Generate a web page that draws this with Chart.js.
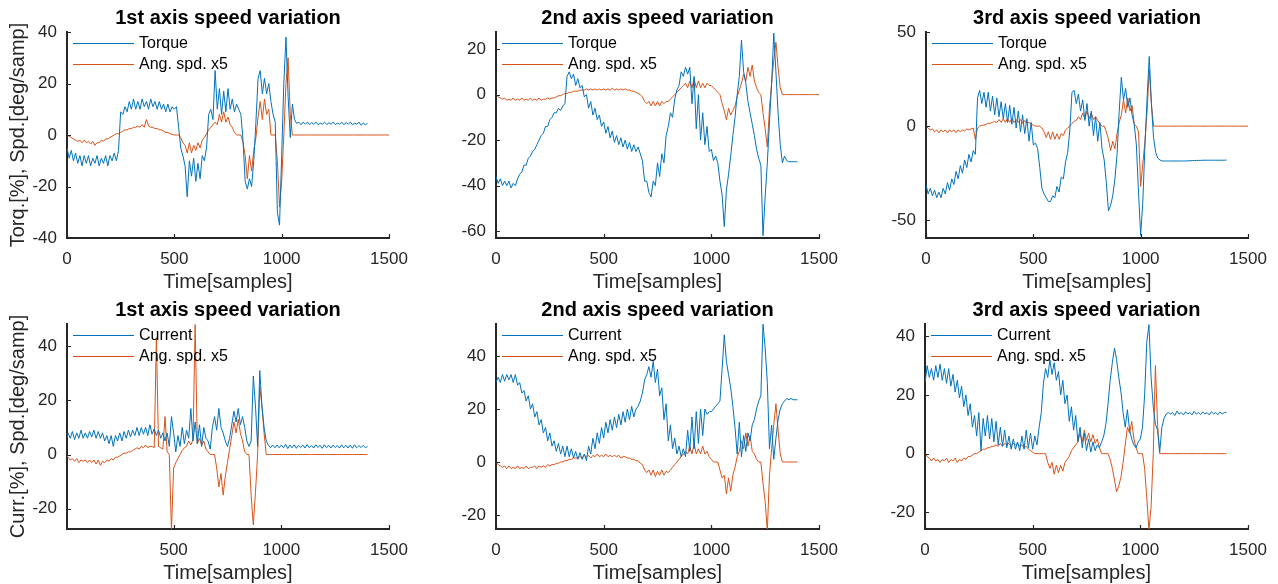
<!DOCTYPE html>
<html>
<head>
<title>Axis speed variation</title>
<style>
  body { margin: 0; background: #fff; }
  #wrap { position: relative; width: 1278px; height: 584px; }
  #wrap canvas { position: absolute; left: 0; top: 0; }
</style>
<script src="https://cdn.jsdelivr.net/npm/chart.js"></script>
</head>
<body>
<div id="wrap">
  <canvas id="c1" width="1278" height="584"></canvas>
  <canvas id="c2" width="1278" height="584"></canvas>
  <canvas id="c3" width="1278" height="584"></canvas>
  <canvas id="c4" width="1278" height="584"></canvas>
  <canvas id="c5" width="1278" height="584"></canvas>
  <canvas id="c6" width="1278" height="584"></canvas>
</div>
<script>
// sample index, one value every 10 samples (0 .. 1500)
const sampleIdx = [];
for (let t = 0; t <= 1500; t += 10) sampleIdx.push(t);

const titles = ["1st axis speed variation", "2nd axis speed variation", "3rd axis speed variation"];
const xTicksFull = [0, 500, 1000, 1500];
const xTicksCut = [500, 1000, 1500];

// ---- top row: torque + angular speed x5 ----
const torque1 = [
  -5,-9,-6,-10,-7,-11,-8,-12,-8,-11,
  -8,-12,-9,-11,-8,-12,-9,-11,-8,-12,
  -8,-10,-7,-10,-6,9,8,11,9,13,
  10,14,10,13,10,14,11,13,10,14,
  11,13,10,13,10,12,9,12,9,11,
  10,11,3,-5,-8,-12,-24,-10,-16,-9,
  -18,-11,-17,-8,-10,-5,8,10,6,25,
  10,18,8,17,9,18,10,14,9,12,
  10,8,-2,-18,-21,-17,-20,-10,5,22,
  25,16,22,16,20,13,8,5,-30,-35,
  -8,20,38,15,-1,12,6,4.5,5,4,
  5,4.2,5,4,4.8,4.2,5,4,4.6,4.2,
  5,4,4.8,4.2,5,4,4.6,4.2,5,4,
  4.8,4.2,5,4,4.6,4.2,5,3.8,4.6,4,
  4.5];
const speedT1 = [
  0,-0.5,-1,-1.5,-2,-2.5,-2,-3,-2,-3,
  -2.5,-3.5,-2.5,-4,-3,-3,-2,-2.5,-1.5,-1.5,
  -1,-0.5,0,0.5,0.5,1,1.5,2,2,2.5,
  2.5,3,3,3.5,3,4,3,6,3.5,3,
  3,2.5,2.5,2,2,1.5,1,1,0.5,0.2,
  0,0,0,-1,-3,-4,-7,-3,-7,-4,
  -6,-3,-5,-2,-1,0.5,2,3,4,5,
  4,8,5,9,5,7,4,3,1,0,
  0,0,-3,-8,-17,-8,-14,-6,-1,7,
  13,6,14,8,10,0,0,0,-10,-28,
  -18,0,20,30,8,0,0,0,0,0,
  0,0,0,0,0,0,0,0,0,0,
  0,0,0,0,0,0,0,0,0,0,
  0,0,0,0,0,0,0,0,0,0,
  0,0,0,0,0,0,0,0,0,0,
  0];
const torque2 = [
  -36,-39,-37,-40,-38,-40,-38,-41,-39,-40,
  -37,-35,-34,-31,-31,-28,-27,-25,-24,-22,
  -20,-18,-17,-14,-14,-11,-10,-8,-8,-6,
  -7,-5,-4,8,10,7,9,4,7,3,
  4,-1,0,-6,-3,-9,-6,-11,-9,-14,
  -12,-17,-14,-19,-16,-21,-18,-22,-19,-23,
  -20,-24,-21,-25,-22,-25,-23,-26,-29,-38,
  -38,-43,-45,-38,-40,-30,-36,-26,-30,-18,
  -14,-8,-10,-2,2,4,10,8,12,9,
  12,-4,8,-15,0,-20,-8,-22,-14,-25,
  -24,-29,-27,-30,-38,-44,-58,-42,-35,-27,
  -18,-10,0,8,24,10,5,-3,-8,-13,
  -18,-24,-28,-31,-62,-45,-30,-12,5,27,
  10,-8,-22,-30,-27,-29,-29.5,-29.5,-29.5,-29.5,
  -29.5];
const speedT2 = [
  0,-1,-1.5,-2,-1.5,-2.5,-2,-2.5,-1.5,-2.5,
  -2,-2.5,-1.5,-2.5,-2,-2.5,-1.5,-2.5,-2,-2.5,
  -1.5,-2.5,-2,-2,-1.5,-2,-1.5,-1.5,-1,-0.5,
  -0.5,0,0.5,0.5,1,1,1.5,1.5,1.5,2,
  2,2,2.5,2,2.5,2,2.5,2,2.5,2,
  2.5,2,2.5,2,2.8,2,2.5,2,2.5,2,
  2.5,2,2,1.5,1.5,1,0.5,0,-1,-3,
  -4,-3,-5,-3,-5,-3,-5,-3,-4,-3,
  -3,-2,-1,0,1,2,3,4,5,3,
  6,3,7,3,6,3,5,3,5,4,
  4,3,2,1,0,-4,-7,-11,-6,-9,
  -7,-5,-1,2,5,9,6,12,8,13,
  6,3,1,0,-8,-15,-23,-6,5,15,
  23,12,3,0,0,0,0,0,0,0,
  0,0,0,0,0,0,0,0,0,0,
  0];
const torque3 = [
  -31,-36,-33,-37,-34,-38,-35,-38,-33,-36,
  -30,-34,-28,-31,-24,-28,-21,-25,-18,-22,
  -15,-19,-13,-15,15,19,12,18,10,18,
  8,16,6,15,5,13,4,12,2,11,
  1,10,-1,8,-3,6,-4,4,-8,2,
  -10,-9,-12,-22,-33,-36,-38,-40,-40,-37,
  -38,-32,-35,-27,-28,-19,-14,-2,18,19,
  12,17,8,14,3,12,0,8,-5,5,
  -8,2,-12,-18,-30,-45,-42,-37,-28,-15,
  8,26,14,20,10,15,6,1,-10,-35,
  -58,-40,-10,15,37,12,-6,-14,-17,-18,
  -18.5,-18.5,-18.5,-18.5,-18.5,-18.5,-18.5,-18.5,-18.5,-18.5,
  -18.5,-18.5,-18.4,-18.4,-18.3,-18.3,-18.2,-18.2,-18.2,-18.1,
  -18.1,-18.1,-18.1,-18.1,-18.1,-18.1,-18.1,-18.1,-18.1,-18.1,
  -18];
const speedT3 = [
  0,-1,-2,-1.5,-3,-2,-3.5,-2,-3,-2,
  -3.5,-2,-3,-2,-3.5,-2,-3,-2,-2.5,-1.5,
  -2,-1.5,-1,-7,-1,0,0.5,0.5,1,1.5,
  1.5,2,2.5,2,3.5,2,4,2,4,2,
  4,2,3.5,2,3.5,1.5,3,1.5,2,1,
  0.5,0,0,0,-1,-3,-6,-3,-7,-3,
  -7,-4,-7,-4,-5,-2,-1,0,1.5,2.5,
  3,5,3.5,7,4,8,4,7,3.5,5,
  3,1,0,0,-3,-7,-13,-8,-12,-4,
  2,6,14,7,15,8,11,1,0,-3,
  -32,-20,-8,8,30,12,0,0,0,0,
  0,0,0,0,0,0,0,0,0,0,
  0,0,0,0,0,0,0,0,0,0,
  0,0,0,0,0,0,0,0,0,0,
  0,0,0,0,0,0,0,0,0,0,
  0];

// ---- bottom row: current + angular speed x5 ----
const current1 = [
  5,8,6,8.5,5.5,8,6,9,6,8,
  6,8.5,6.5,9,6,8.5,6,8,5,7,
  4,7,3,7,5,8,5,8.5,6,9,
  6.5,9,7,10,7,10,7.5,10,7,11,
  7.5,9.5,7,9,6,8,5,8,3,14,
  8,1,7,3,10,4,9,6,17,5,
  12,4,11,3,10,6,5,2,10,14,
  9,17,10,8,5,3,6,11,16,12,
  17,11,14,10,5,3,5,29,18,3,
  31,18,10,5,3.5,2.5,3.5,2.5,3.5,2.5,
  3.5,2.5,3.8,2.2,3.5,2.5,3.6,2.3,3.4,2.6,
  3.5,2.4,3.7,2.5,3.3,2.4,3.6,2.6,3.4,2.3,
  3.6,2.5,3.4,2.4,3.5,2.6,3.3,2.4,3.6,2.5,
  3.4,2.4,3.5,2.3,3.6,2.5,3.3,2.6,3.4,2.5,
  3];
const speedC1 = [
  0,-1,-2,-1.5,-2.5,-1.5,-3,-2,-2.5,-2,
  -3,-2,-3,-2,-3.5,-2,-4,-2.5,-3,-2,
  -2.5,-1.5,-2,-1,-1,-0.5,0,0.5,0.5,1,
  1,1.5,2,2.5,2,3,2.5,3.5,2.5,3,
  3,2.5,43,3,2.5,2,14,1,0,-28,
  -5,-3,-1.5,0,1.5,2.5,3,5,3.5,5.5,
  48,4,6,3.5,5,2,1,0,0,0,
  -5,-12,-7,-15,-8,-3,2,7,12,8,
  13,8,5,1,0,0,-15,-26,-14,0,
  25,18,8,0,0,0,0,0,0,0,
  0,0,0,0,0,0,0,0,0,0,
  0,0,0,0,0,0,0,0,0,0,
  0,0,0,0,0,0,0,0,0,0,
  0,0,0,0,0,0,0,0,0,0,
  0];
const current2 = [
  30,32,30,33,30.5,33,31,33,30,33,
  29,30,26,27,23,25,20,22,17,19,
  14,16,11,13,8,11,6,8,4,7,
  3,6,2,6,2,5,1.5,4,1,3.5,
  1,3,0.5,6,3,9,5,11,7,13,
  9,15,11,16,12,17,13,18,14,19,
  15,20,16,21,17,20,21,23,26,31,
  33,36,32,38,30,35,25,28,16,22,
  8,14,5,9,3,6,2,5,2,12,
  4,17,5,19,7,20,10,20,18,19,
  19,20,21,22,23,35,48,38,33,28,
  21,13,3,15,2,10,4,11,8,14,
  16,20,23,25,52,43,30,5,14,1,
  9,16,20,22,23,24,23.5,24,23.5,23.5,
  23.5];
const speedC2 = [
  0,-1,-1.5,-2,-1.5,-2.5,-1.5,-2.5,-2,-2.5,
  -1.5,-2.5,-2,-2.5,-1.5,-2.5,-2,-2,-1.5,-2.5,
  -1.5,-2,-1.5,-2,-1,-1.5,-1,-1,-0.5,-0.5,
  0,0,0.5,0.5,1,1,1.5,1.5,1.5,2,
  1.5,2.5,2,2.5,1.5,2.5,2,3,2,2.5,
  2,3,2,2.5,2,2.5,2,2.5,1.5,2,
  2,1.5,1.5,1,1,0.5,0.5,-0.5,-1,-3,
  -4,-3,-5,-3,-5.5,-3.5,-5,-3,-5,-3.5,
  -4,-3,-2,-1,0,1,2,3,4,3,
  6,3,7,3,5,3,6,3,4,2,
  1,0,0,0,-3,-6,-5,-12,-6,-11,
  -5,-2,2,4,8,5,11,6,10,4,
  3,1,0,0,-8,-15,-26,-5,5,14,
  22,12,3,0,0,0,0,0,0,0,
  0];
const current3 = [
  24,30,26,29,25,30,26,30.5,25,29,
  24,29,23,27,21,25,19,23,16,20,
  13,17,9,13,6,14,1,12,6,13,
  5,12,4,11,3,9,2.5,8,2,6,
  1.5,5,1.5,4,1,6,1.5,8,2,7,
  1.5,6,3,9,14,24,29,26,32,27,
  31,25,28,20,25,17,20,11,16,8,
  13,4,9,2,7,1,5,0.5,4,1,
  3,2,4,6,10,17,25,31,36,32,
  26,21,14,9,15,8,5,3,2,4,
  5,9,20,38,44,26,16,10,8,0.5,
  9,12,13.5,14,13.5,14,13,14.5,13.5,14,
  13.2,14.3,13.5,14,13.2,14.4,13.5,14,13.3,14.2,
  13.5,14,13.2,14.3,13.6,14,13.3,14.2,13.5,14,
  14];
const speedC3 = [
  0,-1,-1.5,-2.5,-1.5,-2.5,-2,-3,-2,-2.5,
  -1.5,-3,-2,-2.5,-1.5,-3,-2,-2.5,-1.5,-2,
  -1,-1,-0.5,0,0,0.5,1,1.5,1.5,2,
  2,2.5,2.5,3,2.5,3.5,2.5,3.5,3,3.5,
  2.5,3.5,3,3.5,2.5,3,2,2.5,1.5,1,
  0.5,0,0,0,0,0,0,-3,-5,-3,
  -7,-4,-6.5,-4,-6,-3,-2,-1,1,2,
  3,4,7,4,8,4.5,7,4,6.5,3.5,
  5,2,0,0,0,0,-2,-5,-9,-13,
  -11,-8,-3,3,9,7,11,5,2,0,
  0,0,-5,-15,-26,-18,0,30,10,0,
  0,0,0,0,0,0,0,0,0,0,
  0,0,0,0,0,0,0,0,0,0,
  0,0,0,0,0,0,0,0,0,0,
  0];

const yTicks1 = [-40, -20, 0, 20, 40];
const yTicks2 = [-60, -40, -20, 0, 20];
const yTicks3 = [-50, 0, 50];
const yTicksLow = [-20, 0, 20, 40];

const BLUE = "#0072BD", ORANGE = "#D95319", AXIS = "#262626";
const FONT = '"Liberation Sans", Arial, Helvetica, sans-serif';
const Y_AXIS_W = 60, X_AXIS_H = 30;

// titles, legend, inward tick marks, axis labels
const decor = {
  id: "decor",
  afterDraw(chart, args, o) {
    const ctx = chart.ctx, a = chart.chartArea;
    const xs = chart.scales.x, ys = chart.scales.y;
    ctx.save();
    ctx.strokeStyle = AXIS;
    ctx.lineWidth = 1.2;
    ctx.beginPath();
    xs.ticks.forEach(t => {
      const p = Math.round(xs.getPixelForValue(t.value)) + 0.5;
      ctx.moveTo(p, a.bottom); ctx.lineTo(p, a.bottom - 4);
    });
    ys.ticks.forEach(t => {
      const p = Math.round(ys.getPixelForValue(t.value)) + 0.5;
      ctx.moveTo(a.left, p); ctx.lineTo(a.left + 4, p);
    });
    ctx.stroke();

    ctx.font = "16px " + FONT;
    ctx.textBaseline = "middle";
    ctx.textAlign = "left";
    chart.data.datasets.forEach((d, i) => {
      const y = Math.round(a.top + 11 + i * 21) + 0.5;
      ctx.strokeStyle = d.borderColor;
      ctx.lineWidth = 1;
      ctx.beginPath();
      ctx.moveTo(a.left + 6, y); ctx.lineTo(a.left + 67, y);
      ctx.stroke();
      ctx.fillStyle = "#000";
      ctx.fillText(d.label, a.left + 72, y);
    });

    const cx = (a.left + a.right) / 2;
    ctx.textAlign = "center";
    ctx.fillStyle = "#000";
    ctx.font = "bold 20px " + FONT;
    ctx.fillText(o.title, cx, a.top - 14);
    ctx.fillStyle = AXIS;
    ctx.font = "20px " + FONT;
    ctx.fillText("Time[samples]", cx, a.bottom + 44);
    if (o.yLabel) {
      ctx.translate(18, (a.top + a.bottom) / 2);
      ctx.rotate(-Math.PI / 2);
      ctx.fillText(o.yLabel, 0, 0);
    }
    ctx.restore();
  }
};

function makeChart(id, box, first, second, names, yMin, yMax, yTicks, xMin, xTicks, title, yLabel) {
  const line = (label, data, color) => ({
    label, data, borderColor: color, borderWidth: 1, pointRadius: 0, tension: 0, fill: false
  });
  return new Chart(document.getElementById(id), {
    type: "line",
    data: {
      labels: sampleIdx,
      datasets: [line(names[0], first, BLUE), line(names[1], second, ORANGE)]
    },
    options: {
      responsive: false,
      animation: false,
      events: [],
      layout: { padding: {
        left: box[0] - Y_AXIS_W, top: box[1],
        right: 1278 - box[2], bottom: 584 - box[3] - X_AXIS_H } },
      plugins: {
        legend: { display: false },
        tooltip: { enabled: false },
        decor: { title, yLabel }
      },
      scales: {
        x: {
          type: "linear", min: xMin, max: 1500,
          grid: { display: false, drawTicks: false },
          border: { display: true, color: AXIS, width: 2 },
          ticks: { font: { family: FONT, size: 17 }, color: AXIS, padding: 11, maxRotation: 0,
                   autoSkip: false, callback: v => String(v) },
          afterBuildTicks: s => { s.ticks = xTicks.map(v => ({ value: v })); },
          afterFit: s => { s.height = X_AXIS_H; s.paddingLeft = 0; s.paddingRight = 0; }
        },
        y: {
          min: yMin, max: yMax,
          grid: { display: false, drawTicks: false },
          border: { display: true, color: AXIS, width: 2 },
          ticks: { font: { family: FONT, size: 17 }, color: AXIS, padding: 10,
                   autoSkip: false, callback: v => String(v) },
          afterBuildTicks: s => { s.ticks = yTicks.map(v => ({ value: v })); },
          afterFit: s => { s.width = Y_AXIS_W; s.paddingTop = 0; s.paddingBottom = 0; }
        }
      }
    },
    plugins: [decor]
  });
}

const topNames = ["Torque", "Ang. spd. x5"];
const lowNames = ["Current", "Ang. spd. x5"];
makeChart("c1", [67, 32, 389, 238], torque1, speedT1, topNames, -40, 40, yTicks1, 0, xTicksFull, titles[0], "Torq.[%], Spd.[deg/samp]");
makeChart("c2", [496, 32, 819, 238], torque2, speedT2, topNames, -63, 27.5, yTicks2, 0, xTicksFull, titles[1], null);
makeChart("c3", [926, 32, 1248, 238], torque3, speedT3, topNames, -59.4, 50, yTicks3, 0, xTicksFull, titles[2], null);
makeChart("c4", [67, 324, 389, 529], current1, speedC1, lowNames, -27.5, 48.2, yTicksLow, 5, xTicksCut, titles[0], "Curr.[%], Spd.[deg/samp]");
makeChart("c5", [496, 324, 819, 529], current2, speedC2, lowNames, -25.3, 52.1, yTicksLow, 0, xTicksFull, titles[1], null);
makeChart("c6", [925, 324, 1248, 529], current3, speedC3, lowNames, -25.7, 44.2, yTicksLow, 0, xTicksFull, titles[2], null);
</script>
</body>
</html>
